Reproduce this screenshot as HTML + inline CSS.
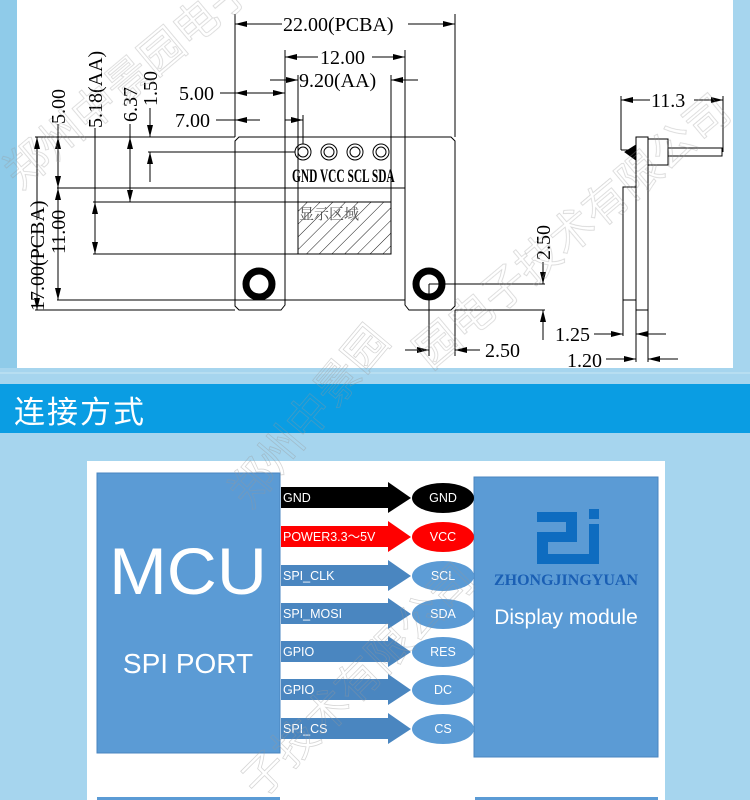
<!DOCTYPE html>
<html><head><meta charset="utf-8"><style>
html,body{margin:0;padding:0}
body{width:750px;height:800px;overflow:hidden;background:#a6d5ee;position:relative;font-family:"Liberation Sans","Noto Sans CJK SC",sans-serif}
</style></head><body>
<svg width="750" height="800" viewBox="0 0 750 800" xmlns="http://www.w3.org/2000/svg" style="position:absolute;left:0;top:0">
<defs>
<marker id="a" viewBox="0 0 12 6" refX="12" refY="3" markerWidth="12" markerHeight="6" markerUnits="userSpaceOnUse" orient="auto"><path d="M0,0L12,3L0,6z" fill="#000"/></marker>
<pattern id="h" width="9" height="9" patternUnits="userSpaceOnUse" patternTransform="rotate(45)"><line x1="0" y1="0" x2="0" y2="9" stroke="#000" stroke-width="0.9"/></pattern>
</defs>
<rect x="0" y="0" width="750" height="800" fill="#a6d5ee"/>
<rect x="0" y="0" width="17" height="368" fill="#8fcbe9"/>
<rect x="17" y="0" width="716" height="368" fill="#fff"/>
<line x1="0" y1="373" x2="750" y2="373" stroke="#c8e6f4" stroke-width="1"/>
<rect x="0" y="384" width="750" height="49" fill="#0a9de3"/>
<text x="14" y="423" font-size="31" fill="#fff" font-family="'Noto Sans CJK SC',sans-serif" letter-spacing="2">连接方式</text>

<g stroke="#000" stroke-width="1" fill="none" font-family="'Liberation Serif',serif">
<path d="M239,137 H451 L455,141 V306 L451,310 H409 L405,305 V300 H285 V305 L281,310 H239 L235,306 V141 Z"/>
<rect x="285" y="137" width="120" height="163"/>
<rect x="298" y="202" width="93" height="52" fill="url(#h)"/>
<g><circle cx="303" cy="152" r="8"/><circle cx="303" cy="152" r="5"/><circle cx="329" cy="152" r="8"/><circle cx="329" cy="152" r="5"/><circle cx="355" cy="152" r="8"/><circle cx="355" cy="152" r="5"/><circle cx="381" cy="152" r="8"/><circle cx="381" cy="152" r="5"/></g>
<circle cx="259" cy="284" r="13" stroke-width="7"/>
<circle cx="429" cy="284" r="13" stroke-width="7"/>
<line x1="235" y1="14" x2="235" y2="137"/>
<line x1="455" y1="14" x2="455" y2="137"/>
<line x1="285" y1="50" x2="285" y2="137"/>
<line x1="405" y1="50" x2="405" y2="137"/>
<line x1="298" y1="75" x2="298" y2="202"/>
<line x1="391" y1="75" x2="391" y2="202"/>
<line x1="303" y1="115" x2="303" y2="144"/>
<line x1="282" y1="24" x2="235" y2="24" marker-end="url(#a)"/>
<line x1="408" y1="24" x2="455" y2="24" marker-end="url(#a)"/>
<line x1="318" y1="57" x2="285" y2="57" marker-end="url(#a)"/>
<line x1="372" y1="57" x2="405" y2="57" marker-end="url(#a)"/>
<line x1="270" y1="80" x2="298" y2="80" marker-end="url(#a)"/>
<line x1="418" y1="80" x2="391" y2="80" marker-end="url(#a)"/>
<line x1="220" y1="93" x2="235" y2="93"/>
<line x1="260" y1="93" x2="235" y2="93" marker-end="url(#a)"/>
<line x1="260" y1="93" x2="285" y2="93" marker-end="url(#a)"/>
<line x1="216" y1="120" x2="235" y2="120"/>
<line x1="260" y1="120" x2="235" y2="120" marker-end="url(#a)"/>
<line x1="285" y1="120" x2="303" y2="120" marker-end="url(#a)"/>
<line x1="35" y1="137" x2="235" y2="137"/>
<line x1="148" y1="152" x2="295" y2="152"/>
<line x1="57" y1="188" x2="405" y2="188"/>
<line x1="93" y1="202" x2="298" y2="202"/>
<line x1="93" y1="254" x2="298" y2="254"/>
<line x1="57" y1="300" x2="285" y2="300"/>
<line x1="35" y1="310" x2="235" y2="310"/>
<line x1="37" y1="220" x2="37" y2="137" marker-end="url(#a)"/>
<line x1="37" y1="230" x2="37" y2="310" marker-end="url(#a)"/>
<line x1="58" y1="124" x2="58" y2="137"/>
<line x1="58" y1="162" x2="58" y2="137" marker-end="url(#a)"/>
<line x1="58" y1="162" x2="58" y2="188" marker-end="url(#a)"/>
<line x1="58" y1="250" x2="58" y2="188" marker-end="url(#a)"/>
<line x1="58" y1="250" x2="58" y2="300" marker-end="url(#a)"/>
<line x1="95" y1="128" x2="95" y2="202"/>
<line x1="95" y1="228" x2="95" y2="202" marker-end="url(#a)"/>
<line x1="95" y1="228" x2="95" y2="254" marker-end="url(#a)"/>
<line x1="130" y1="124" x2="130" y2="137"/>
<line x1="130" y1="170" x2="130" y2="137" marker-end="url(#a)"/>
<line x1="130" y1="170" x2="130" y2="202" marker-end="url(#a)"/>
<line x1="150" y1="108" x2="150" y2="137" marker-end="url(#a)"/>
<line x1="150" y1="182" x2="150" y2="152" marker-end="url(#a)"/>
<line x1="429" y1="284" x2="545" y2="284"/>
<line x1="455" y1="310" x2="545" y2="310"/>
<line x1="543" y1="262" x2="543" y2="284" marker-end="url(#a)"/>
<line x1="543" y1="340" x2="543" y2="310" marker-end="url(#a)"/>
<line x1="429" y1="284" x2="429" y2="356"/>
<line x1="455" y1="310" x2="455" y2="356"/>
<line x1="405" y1="350" x2="429" y2="350" marker-end="url(#a)"/>
<line x1="480" y1="350" x2="455" y2="350" marker-end="url(#a)"/>
<rect x="636" y="137" width="12" height="173"/>
<rect x="623" y="187" width="13" height="113"/>
<rect x="648" y="139" width="20" height="26"/>
<rect x="668" y="148" width="54" height="8"/>
<path d="M636,145 L625,152 L636,160 Z" fill="#000"/>
<line x1="621" y1="150" x2="636" y2="150"/>
<line x1="621" y1="96" x2="621" y2="150"/>
<line x1="723" y1="96" x2="723" y2="152"/>
<line x1="650" y1="100" x2="621" y2="100" marker-end="url(#a)"/>
<line x1="694" y1="100" x2="723" y2="100" marker-end="url(#a)"/>
<line x1="623" y1="300" x2="623" y2="336"/>
<line x1="636" y1="310" x2="636" y2="362"/>
<line x1="648" y1="310" x2="648" y2="362"/>
<line x1="594" y1="334" x2="623" y2="334" marker-end="url(#a)"/>
<line x1="666" y1="334" x2="636" y2="334" marker-end="url(#a)"/>
<line x1="606" y1="359" x2="636" y2="359" marker-end="url(#a)"/>
<line x1="678" y1="359" x2="648" y2="359" marker-end="url(#a)"/>
</g>
<g font-family="'Liberation Serif',serif" font-size="20" fill="#000">
<rect x="282" y="13" width="126" height="20" fill="#fff"/>
<text x="283" y="31">22.00(PCBA)</text>
<rect x="318" y="46" width="54" height="20" fill="#fff"/>
<text x="320" y="64">12.00</text>
<text x="299" y="87">9.20(AA)</text>
<text x="179" y="100">5.00</text>
<text x="175" y="127">7.00</text>
<text x="651" y="107">11.3</text>
<text x="485" y="357">2.50</text>
<text x="555" y="341">1.25</text>
<text x="567" y="367">1.20</text>
<text transform="translate(550,260) rotate(-90)">2.50</text>
<text transform="translate(44,311) rotate(-90)">17.00(PCBA)</text>
<text transform="translate(65,254) rotate(-90)">11.00</text>
<text transform="translate(65,124) rotate(-90)">5.00</text>
<text transform="translate(102,128) rotate(-90)">5.18(AA)</text>
<text transform="translate(137,122) rotate(-90)">6.37</text>
<text transform="translate(157,106) rotate(-90)">1.50</text>
<text x="292" y="182" font-size="19" transform="translate(292,182) scale(0.6,1) translate(-292,-182)" font-weight="bold">GND VCC SCL SDA</text>
<text x="299" y="219" font-size="15" fill="#555" font-family="'Noto Serif CJK SC',serif">显示区域</text>
</g>

<rect x="87" y="461" width="578" height="339" fill="#fff"/>
<rect x="97" y="473" width="183" height="280" fill="#5b9bd5" stroke="#4a86c0"/>
<rect x="474" y="477" width="184" height="280" fill="#5b9bd5" stroke="#4a86c0"/>
<rect x="97" y="797" width="183" height="10" fill="#5b9bd5"/>
<rect x="475" y="797" width="183" height="10" fill="#5b9bd5"/>
<text x="188" y="594" font-size="66" fill="#fff" text-anchor="middle" transform="translate(188,594) scale(1.05,1) translate(-188,-594)">MCU</text>
<text x="188" y="673" font-size="28" fill="#fff" text-anchor="middle">SPI PORT</text>
<g fill="#0e6cc0">
<rect x="537" y="512" width="40" height="10"/><rect x="566" y="512" width="11" height="30"/><rect x="537" y="532" width="40" height="10"/><rect x="537" y="532" width="11" height="32"/><rect x="537" y="554" width="62" height="10"/><rect x="589" y="524" width="10" height="40"/><rect x="589" y="509" width="10" height="10"/>
</g>
<text x="566" y="585" font-size="16" font-weight="bold" fill="#1a5fb4" text-anchor="middle" font-family="'Liberation Serif',serif">ZHONGJINGYUAN</text>
<text x="566" y="624" font-size="21" fill="#fff" text-anchor="middle">Display module</text>
<g font-size="12.5">
<path d="M281,487 H388 V482 L411,498 L388,513 V508 H281 Z" fill="#000"/>
<ellipse cx="443" cy="498" rx="31" ry="15" fill="#000"/>
<text x="283" y="502" fill="#fff">GND</text><text x="443" y="502" fill="#fff" text-anchor="middle">GND</text>
<path d="M281,526 H388 V521 L411,537 L388,552 V547 H281 Z" fill="#f00"/>
<ellipse cx="443" cy="537" rx="31" ry="15" fill="#f00"/>
<text x="283" y="541" fill="#fff">POWER3.3～5V</text><text x="443" y="541" fill="#fff" text-anchor="middle">VCC</text>
</g>
<g font-size="12.5" fill="#fff">
<path d="M281,565 H388 V560 L411,576 L388,591 V586 H281 Z" fill="#4a86c0"/>
<ellipse cx="443" cy="576" rx="31" ry="15" fill="#5b9bd5"/>
<text x="283" y="580">SPI_CLK</text><text x="443" y="580" text-anchor="middle">SCL</text>
<path d="M281,603 H388 V598 L411,614 L388,629 V624 H281 Z" fill="#4a86c0"/>
<ellipse cx="443" cy="614" rx="31" ry="15" fill="#5b9bd5"/>
<text x="283" y="618">SPI_MOSI</text><text x="443" y="618" text-anchor="middle">SDA</text>
<path d="M281,641 H388 V636 L411,652 L388,667 V662 H281 Z" fill="#4a86c0"/>
<ellipse cx="443" cy="652" rx="31" ry="15" fill="#5b9bd5"/>
<text x="283" y="656">GPIO</text><text x="443" y="656" text-anchor="middle">RES</text>
<path d="M281,679 H388 V674 L411,690 L388,705 V700 H281 Z" fill="#4a86c0"/>
<ellipse cx="443" cy="690" rx="31" ry="15" fill="#5b9bd5"/>
<text x="283" y="694">GPIO</text><text x="443" y="694" text-anchor="middle">DC</text>
<path d="M281,718 H388 V713 L411,729 L388,744 V739 H281 Z" fill="#4a86c0"/>
<ellipse cx="443" cy="729" rx="31" ry="15" fill="#5b9bd5"/>
<text x="283" y="733">SPI_CS</text><text x="443" y="733" text-anchor="middle">CS</text>
</g>
<g font-family="'Noto Sans CJK SC',sans-serif" font-size="44" fill="none" stroke="#999" stroke-width="0.8" opacity="0.4">
<text transform="translate(20,190) rotate(-40)">郑州中景园电子</text>
<text transform="translate(430,370) rotate(-40)">园电子技术有限公司</text>
<text transform="translate(250,510) rotate(-50)">郑州中景园</text>
<text transform="translate(260,800) rotate(-45)">子技术有限公司</text>
</g>
</svg>
</body></html>
